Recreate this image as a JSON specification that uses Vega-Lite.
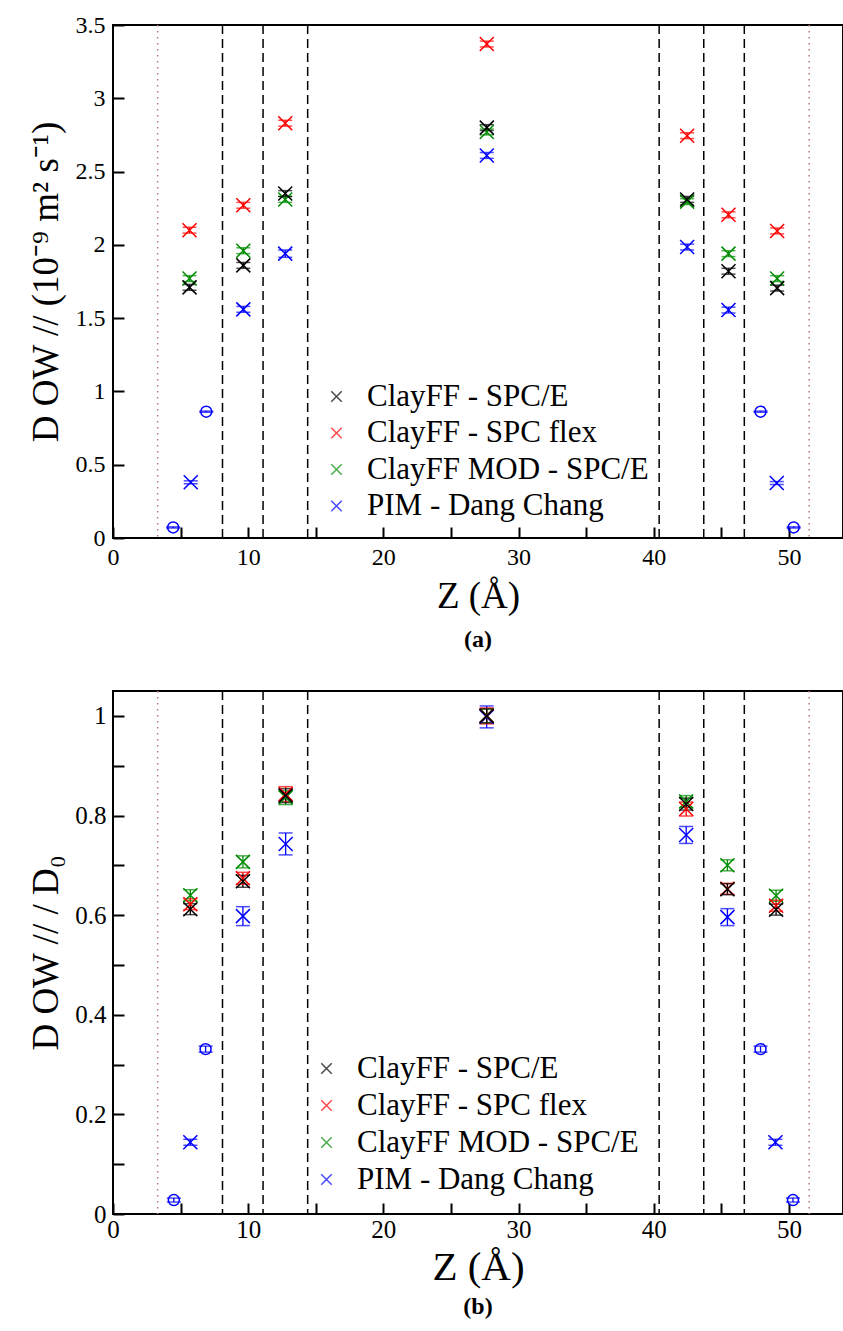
{
  "$schema": "https://vega.github.io/schema/vega-lite/v6.json",
  "background": "white",
  "padding": {"left": 26, "top": 12, "right": 0, "bottom": 0},
  "spacing": 36,
  "resolve": {"scale": {"color": "independent", "shape": "independent", "size": "independent"}},
  "datasets": {
    "dash": [{"z": 8.1}, {"z": 11.1}, {"z": 14.4}, {"z": 40.4}, {"z": 43.7}, {"z": 46.7}],
    "dot": [{"z": 3.3}, {"z": 51.5}],
    "a": [
      {"z": 5.75, "v": 0.38, "lo": 0.37, "hi": 0.39, "s": "PIM - Dang Chang", "m": "x"},
      {"z": 9.64, "v": 1.56, "lo": 1.54, "hi": 1.58, "s": "PIM - Dang Chang", "m": "x"},
      {"z": 12.74, "v": 1.94, "lo": 1.915, "hi": 1.965, "s": "PIM - Dang Chang", "m": "x"},
      {"z": 27.65, "v": 2.61, "lo": 2.59, "hi": 2.63, "s": "PIM - Dang Chang", "m": "x"},
      {"z": 42.47, "v": 1.985, "lo": 1.965, "hi": 2.005, "s": "PIM - Dang Chang", "m": "x"},
      {"z": 45.53, "v": 1.555, "lo": 1.535, "hi": 1.575, "s": "PIM - Dang Chang", "m": "x"},
      {"z": 49.1, "v": 0.375, "lo": 0.365, "hi": 0.385, "s": "PIM - Dang Chang", "m": "x"},
      {"z": 4.45, "v": 0.072, "lo": 0.068, "hi": 0.076, "s": "PIM - Dang Chang", "m": "o"},
      {"z": 6.9, "v": 0.862, "lo": 0.858, "hi": 0.866, "s": "PIM - Dang Chang", "m": "o"},
      {"z": 47.9, "v": 0.862, "lo": 0.858, "hi": 0.866, "s": "PIM - Dang Chang", "m": "o"},
      {"z": 50.35, "v": 0.072, "lo": 0.068, "hi": 0.076, "s": "PIM - Dang Chang", "m": "o"},
      {"z": 5.66, "v": 1.77, "lo": 1.75, "hi": 1.79, "s": "ClayFF MOD - SPC/E", "m": "x"},
      {"z": 9.64, "v": 1.96, "lo": 1.94, "hi": 1.98, "s": "ClayFF MOD - SPC/E", "m": "x"},
      {"z": 12.74, "v": 2.31, "lo": 2.29, "hi": 2.33, "s": "ClayFF MOD - SPC/E", "m": "x"},
      {"z": 27.65, "v": 2.77, "lo": 2.75, "hi": 2.79, "s": "ClayFF MOD - SPC/E", "m": "x"},
      {"z": 42.47, "v": 2.295, "lo": 2.275, "hi": 2.315, "s": "ClayFF MOD - SPC/E", "m": "x"},
      {"z": 45.53, "v": 1.94, "lo": 1.92, "hi": 1.96, "s": "ClayFF MOD - SPC/E", "m": "x"},
      {"z": 49.13, "v": 1.77, "lo": 1.75, "hi": 1.79, "s": "ClayFF MOD - SPC/E", "m": "x"},
      {"z": 5.66, "v": 2.1, "lo": 2.08, "hi": 2.12, "s": "ClayFF - SPC flex", "m": "x"},
      {"z": 9.64, "v": 2.27, "lo": 2.25, "hi": 2.29, "s": "ClayFF - SPC flex", "m": "x"},
      {"z": 12.74, "v": 2.83, "lo": 2.81, "hi": 2.85, "s": "ClayFF - SPC flex", "m": "x"},
      {"z": 27.65, "v": 3.37, "lo": 3.35, "hi": 3.39, "s": "ClayFF - SPC flex", "m": "x"},
      {"z": 42.47, "v": 2.745, "lo": 2.725, "hi": 2.765, "s": "ClayFF - SPC flex", "m": "x"},
      {"z": 45.53, "v": 2.205, "lo": 2.185, "hi": 2.225, "s": "ClayFF - SPC flex", "m": "x"},
      {"z": 49.13, "v": 2.095, "lo": 2.075, "hi": 2.115, "s": "ClayFF - SPC flex", "m": "x"},
      {"z": 5.66, "v": 1.71, "lo": 1.69, "hi": 1.73, "s": "ClayFF - SPC/E", "m": "x"},
      {"z": 9.64, "v": 1.86, "lo": 1.84, "hi": 1.88, "s": "ClayFF - SPC/E", "m": "x"},
      {"z": 12.74, "v": 2.35, "lo": 2.33, "hi": 2.37, "s": "ClayFF - SPC/E", "m": "x"},
      {"z": 27.65, "v": 2.8, "lo": 2.78, "hi": 2.82, "s": "ClayFF - SPC/E", "m": "x"},
      {"z": 42.47, "v": 2.31, "lo": 2.29, "hi": 2.33, "s": "ClayFF - SPC/E", "m": "x"},
      {"z": 45.53, "v": 1.82, "lo": 1.8, "hi": 1.84, "s": "ClayFF - SPC/E", "m": "x"},
      {"z": 49.13, "v": 1.705, "lo": 1.685, "hi": 1.725, "s": "ClayFF - SPC/E", "m": "x"}
    ],
    "b": [
      {"z": 5.72, "v": 0.144, "lo": 0.138, "hi": 0.15, "s": "PIM - Dang Chang", "m": "x"},
      {"z": 9.61, "v": 0.598, "lo": 0.579, "hi": 0.617, "s": "PIM - Dang Chang", "m": "x"},
      {"z": 12.77, "v": 0.743, "lo": 0.721, "hi": 0.765, "s": "PIM - Dang Chang", "m": "x"},
      {"z": 27.64, "v": 0.998, "lo": 0.976, "hi": 1.02, "s": "PIM - Dang Chang", "m": "x"},
      {"z": 42.4, "v": 0.761, "lo": 0.744, "hi": 0.778, "s": "PIM - Dang Chang", "m": "x"},
      {"z": 45.45, "v": 0.596, "lo": 0.579, "hi": 0.613, "s": "PIM - Dang Chang", "m": "x"},
      {"z": 49.0, "v": 0.144, "lo": 0.138, "hi": 0.15, "s": "PIM - Dang Chang", "m": "x"},
      {"z": 4.5, "v": 0.028, "lo": 0.024, "hi": 0.032, "s": "PIM - Dang Chang", "m": "o"},
      {"z": 6.85, "v": 0.331, "lo": 0.325, "hi": 0.337, "s": "PIM - Dang Chang", "m": "o"},
      {"z": 47.9, "v": 0.331, "lo": 0.325, "hi": 0.337, "s": "PIM - Dang Chang", "m": "o"},
      {"z": 50.3, "v": 0.028, "lo": 0.024, "hi": 0.032, "s": "PIM - Dang Chang", "m": "o"},
      {"z": 5.72, "v": 0.64, "lo": 0.629, "hi": 0.651, "s": "ClayFF MOD - SPC/E", "m": "x"},
      {"z": 9.61, "v": 0.707, "lo": 0.695, "hi": 0.719, "s": "ClayFF MOD - SPC/E", "m": "x"},
      {"z": 12.77, "v": 0.836, "lo": 0.822, "hi": 0.85, "s": "ClayFF MOD - SPC/E", "m": "x"},
      {"z": 27.64, "v": 1.0, "lo": 0.986, "hi": 1.014, "s": "ClayFF MOD - SPC/E", "m": "x"},
      {"z": 42.4, "v": 0.828, "lo": 0.816, "hi": 0.84, "s": "ClayFF MOD - SPC/E", "m": "x"},
      {"z": 45.45, "v": 0.7, "lo": 0.689, "hi": 0.711, "s": "ClayFF MOD - SPC/E", "m": "x"},
      {"z": 49.05, "v": 0.639, "lo": 0.628, "hi": 0.65, "s": "ClayFF MOD - SPC/E", "m": "x"},
      {"z": 5.72, "v": 0.622, "lo": 0.611, "hi": 0.633, "s": "ClayFF - SPC flex", "m": "x"},
      {"z": 9.61, "v": 0.674, "lo": 0.662, "hi": 0.686, "s": "ClayFF - SPC flex", "m": "x"},
      {"z": 12.77, "v": 0.843, "lo": 0.828, "hi": 0.858, "s": "ClayFF - SPC flex", "m": "x"},
      {"z": 27.64, "v": 1.0, "lo": 0.984, "hi": 1.016, "s": "ClayFF - SPC flex", "m": "x"},
      {"z": 42.4, "v": 0.813, "lo": 0.799, "hi": 0.827, "s": "ClayFF - SPC flex", "m": "x"},
      {"z": 45.45, "v": 0.653, "lo": 0.642, "hi": 0.664, "s": "ClayFF - SPC flex", "m": "x"},
      {"z": 49.05, "v": 0.619, "lo": 0.608, "hi": 0.63, "s": "ClayFF - SPC flex", "m": "x"},
      {"z": 5.72, "v": 0.612, "lo": 0.601, "hi": 0.623, "s": "ClayFF - SPC/E", "m": "x"},
      {"z": 9.61, "v": 0.668, "lo": 0.656, "hi": 0.68, "s": "ClayFF - SPC/E", "m": "x"},
      {"z": 12.77, "v": 0.84, "lo": 0.826, "hi": 0.854, "s": "ClayFF - SPC/E", "m": "x"},
      {"z": 27.64, "v": 1.0, "lo": 0.986, "hi": 1.014, "s": "ClayFF - SPC/E", "m": "x"},
      {"z": 42.4, "v": 0.823, "lo": 0.811, "hi": 0.835, "s": "ClayFF - SPC/E", "m": "x"},
      {"z": 45.45, "v": 0.652, "lo": 0.641, "hi": 0.663, "s": "ClayFF - SPC/E", "m": "x"},
      {"z": 49.05, "v": 0.611, "lo": 0.6, "hi": 0.622, "s": "ClayFF - SPC/E", "m": "x"}
    ]
  },
  "vconcat": [
    {
      "width": 730,
      "height": 513,
      "title": {"text": "(a)", "orient": "bottom", "font": "Liberation Serif", "fontSize": 24, "fontWeight": "bold", "color": "black", "offset": 14},
      "layer": [
        {"data": {"name": "dash"}, "mark": {"type": "rule", "color": "black", "strokeWidth": 1.5, "strokeDash": [9, 5]},
         "encoding": {"x": {"field": "z", "type": "quantitative", "scale": {"domain": [0, 54], "nice": false, "zero": false},
           "axis": {"orient": "bottom", "values": [0, 5, 10, 15, 20, 25, 30, 35, 40, 45, 50], "format": "d", "labelExpr": "datum.value % 10 === 0 ? datum.label : ''", "labels": true, "ticks": true, "tickSize": -11, "labelPadding": 18, "title": "Z (Å)", "titlePadding": 9}}}},
        {"data": {"name": "dot"}, "mark": {"type": "rule", "color": "#b87878", "strokeWidth": 1.5, "strokeDash": [1.5, 4.5]},
         "encoding": {"x": {"field": "z", "type": "quantitative"}}},
        {"data": {"name": "a"}, "mark": {"type": "rule", "strokeWidth": 1.3},
         "encoding": {
           "x": {"field": "z", "type": "quantitative"},
           "y": {"field": "lo", "type": "quantitative", "scale": {"domain": [0, 3.5], "nice": false, "zero": false},
             "axis": {"orient": "left", "values": [0, 0.25, 0.5, 0.75, 1, 1.25, 1.5, 1.75, 2, 2.25, 2.5, 2.75, 3, 3.25, 3.5], "format": "~g", "labelExpr": "round(datum.value * 4) % 2 === 0 ? datum.label : ''", "labels": true, "ticks": true, "tickSize": -11, "labelPadding": 19, "minExtent": 40, "maxExtent": 40, "title": "D OW // (10⁻⁹ m² s⁻¹)", "titleFontSize": 37, "titlePadding": 8}},
           "y2": {"field": "hi"},
           "color": {"field": "s", "type": "nominal"}}},
        {"data": {"name": "a"}, "transform": [{"fold": ["lo", "hi"], "as": ["end", "val"]}],
         "mark": {"type": "tick", "orient": "horizontal", "size": 14, "thickness": 1.5},
         "encoding": {
           "x": {"field": "z", "type": "quantitative"},
           "y": {"field": "val", "type": "quantitative"},
           "color": {"field": "s", "type": "nominal"}}},
        {"data": {"name": "a"}, "mark": {"type": "point", "filled": false, "strokeWidth": 1.5, "opacity": 1},
         "encoding": {
           "x": {"field": "z", "type": "quantitative"},
           "y": {"field": "v", "type": "quantitative"},
           "color": {"field": "s", "type": "nominal",
             "scale": {"domain": ["ClayFF - SPC/E", "ClayFF - SPC flex", "ClayFF MOD - SPC/E", "PIM - Dang Chang"], "range": ["#000000", "#ff0000", "#008b00", "#0000ff"]},
             "sort": null,
             "legend": {"orient": "none", "legendX": 208, "legendY": 356, "title": null, "padding": 0, "symbolType": "M-1,-1L1,1M-1,1L1,-1", "symbolSize": 110, "symbolStrokeWidth": 1.5, "symbolFillColor": "transparent", "labelFont": "Liberation Serif", "labelFontSize": 31, "labelColor": "black", "labelOffset": 15, "rowPadding": 4.5, "labelLimit": 500}},
           "shape": {"field": "m", "type": "nominal", "scale": {"domain": ["x", "o"], "range": ["M-1,-1L1,1M-1,1L1,-1", "circle"]}, "legend": null},
           "size": {"field": "m", "type": "nominal", "scale": {"domain": ["x", "o"], "range": [196, 120]}, "legend": null}}}
      ]
    },
    {
      "width": 730,
      "height": 523,
      "title": {"text": "(b)", "orient": "bottom", "font": "Liberation Serif", "fontSize": 24, "fontWeight": "bold", "color": "black", "offset": 8},
      "layer": [
        {"data": {"name": "dash"}, "mark": {"type": "rule", "color": "black", "strokeWidth": 1.5, "strokeDash": [9, 5]},
         "encoding": {"x": {"field": "z", "type": "quantitative", "scale": {"domain": [0, 54], "nice": false, "zero": false},
           "axis": {"orient": "bottom", "values": [0, 5, 10, 15, 20, 25, 30, 35, 40, 45, 50], "format": "d", "labelExpr": "datum.value % 10 === 0 ? datum.label : ''", "labels": true, "ticks": true, "tickSize": -11, "labelPadding": 14, "labelFontSize": 25, "title": "Z (Å)", "titleFontSize": 41, "titlePadding": 5}}}},
        {"data": {"name": "dot"}, "mark": {"type": "rule", "color": "#b87878", "strokeWidth": 1.5, "strokeDash": [1.5, 4.5]},
         "encoding": {"x": {"field": "z", "type": "quantitative"}}},
        {"data": {"name": "b"}, "mark": {"type": "rule", "strokeWidth": 1.3},
         "encoding": {
           "x": {"field": "z", "type": "quantitative"},
           "y": {"field": "lo", "type": "quantitative", "scale": {"domain": [0, 1.05], "nice": false, "zero": false},
             "axis": {"orient": "left", "values": [0, 0.1, 0.2, 0.3, 0.4, 0.5, 0.6, 0.7, 0.8, 0.9, 1], "format": "~g", "labelExpr": "round(datum.value * 10) % 2 === 0 ? datum.label : ''", "labels": true, "ticks": true, "tickSize": -11, "labelPadding": 18, "labelFontSize": 25, "minExtent": 40, "maxExtent": 40, "title": "D OW // / D₀", "titleFontSize": 37, "titlePadding": 8}},
           "y2": {"field": "hi"},
           "color": {"field": "s", "type": "nominal"}}},
        {"data": {"name": "b"}, "transform": [{"fold": ["lo", "hi"], "as": ["end", "val"]}],
         "mark": {"type": "tick", "orient": "horizontal", "size": 14, "thickness": 1.5},
         "encoding": {
           "x": {"field": "z", "type": "quantitative"},
           "y": {"field": "val", "type": "quantitative"},
           "color": {"field": "s", "type": "nominal"}}},
        {"data": {"name": "b"}, "mark": {"type": "point", "filled": false, "strokeWidth": 1.5, "opacity": 1},
         "encoding": {
           "x": {"field": "z", "type": "quantitative"},
           "y": {"field": "v", "type": "quantitative"},
           "color": {"field": "s", "type": "nominal",
             "scale": {"domain": ["ClayFF - SPC/E", "ClayFF - SPC flex", "ClayFF MOD - SPC/E", "PIM - Dang Chang"], "range": ["#000000", "#ff0000", "#008b00", "#0000ff"]},
             "sort": null,
             "legend": {"orient": "none", "legendX": 198, "legendY": 362, "title": null, "padding": 0, "symbolType": "M-1,-1L1,1M-1,1L1,-1", "symbolSize": 110, "symbolStrokeWidth": 1.5, "symbolFillColor": "transparent", "labelFont": "Liberation Serif", "labelFontSize": 31, "labelColor": "black", "labelOffset": 15, "rowPadding": 5, "labelLimit": 500}},
           "shape": {"field": "m", "type": "nominal", "scale": {"domain": ["x", "o"], "range": ["M-1,-1L1,1M-1,1L1,-1", "circle"]}, "legend": null},
           "size": {"field": "m", "type": "nominal", "scale": {"domain": ["x", "o"], "range": [196, 120]}, "legend": null}}}
      ]
    }
  ],
  "config": {
    "view": {"stroke": "black", "strokeWidth": 2},
    "axis": {"domain": false, "grid": false, "labelFlush": false, "labelOverlap": false,
      "tickColor": "black", "tickWidth": 2, "labelFont": "Liberation Serif", "labelColor": "black", "labelFontSize": 24,
      "titleFont": "Liberation Serif", "titleColor": "black", "titleFontWeight": "normal", "titleFontSize": 37}
  }
}
